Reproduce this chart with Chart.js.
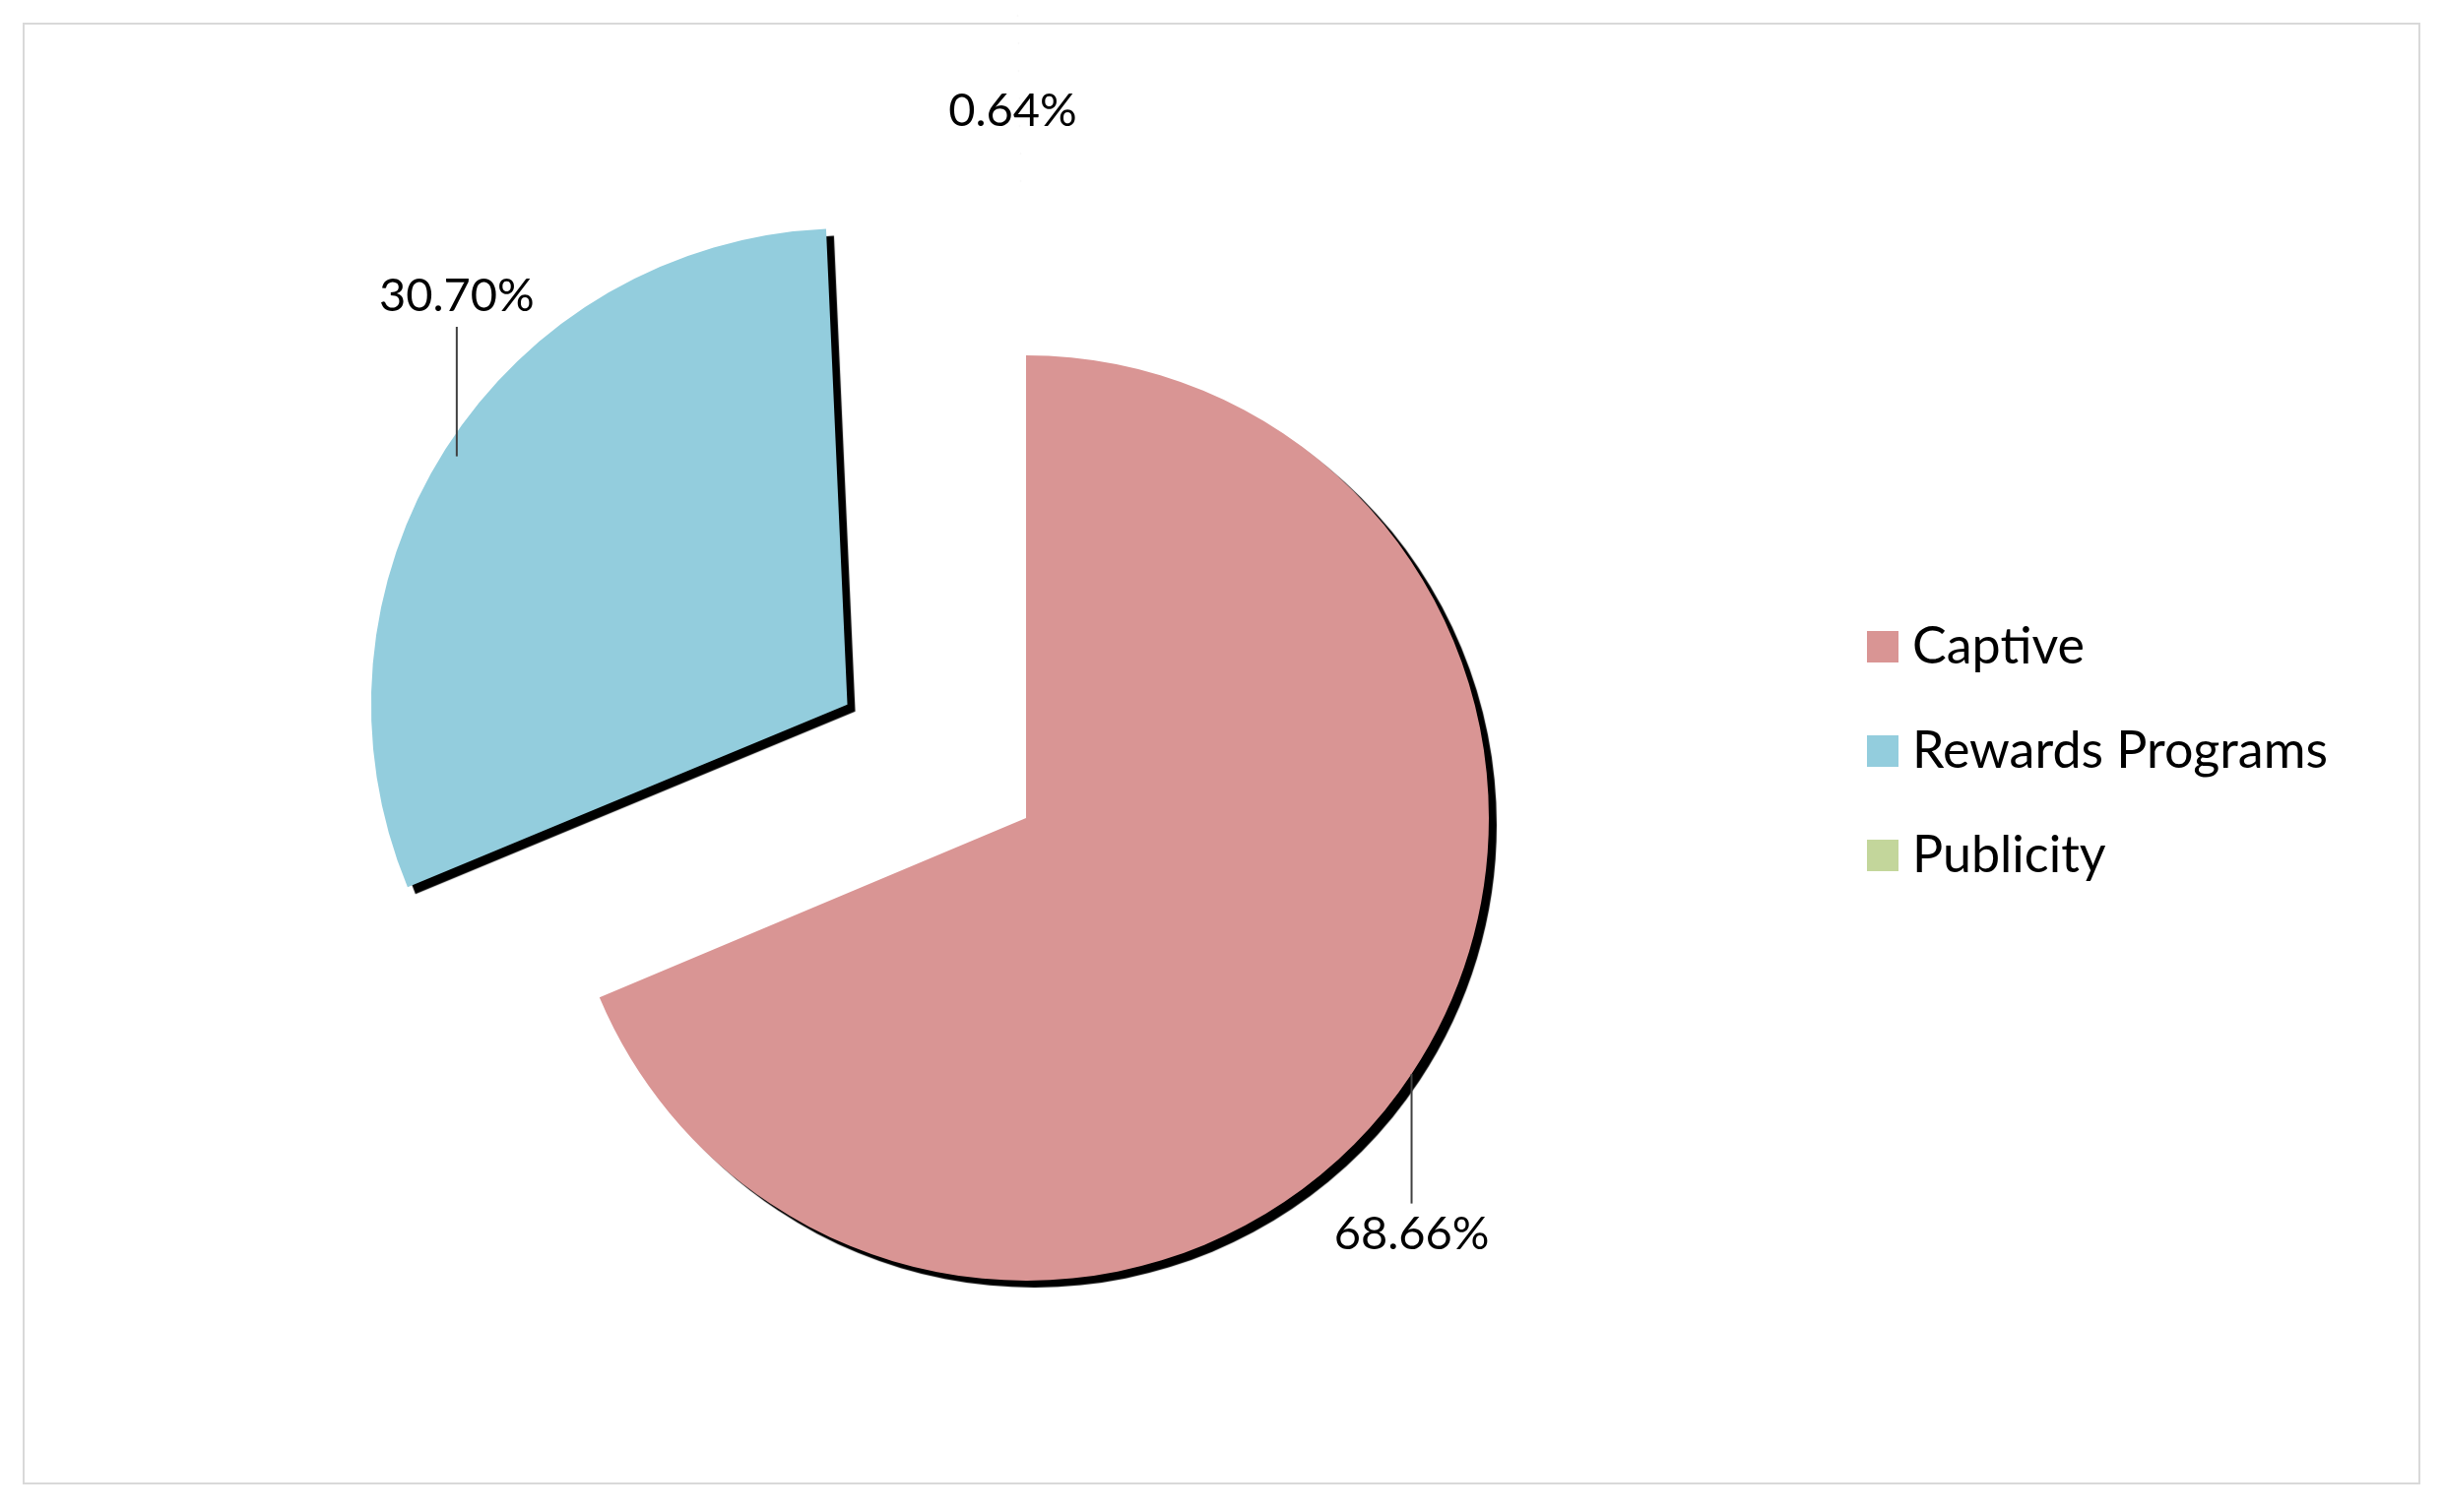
<!DOCTYPE html>
<html>
<head>
<meta charset="utf-8">
<script src="https://cdn.jsdelivr.net/npm/chart.js@4/dist/chart.umd.min.js"></script>
<style>
  html, body { margin: 0; padding: 0; background: #fff; }
  #wrap { width: 2482px; height: 1536px; }
</style>
</head>
<body>
<div id="wrap"><canvas id="pie"></canvas></div>
<script>
var categories = ["Captive", "Rewards Programs", "Publicity"];
var shares = [68.66, 30.70, 0.64];
var shareLabels = ["68.66%", "30.70%", "0.64%"];
var sliceColors = ["#D99594", "#93CDDD", "#C3D69B"];
var sliceOffsets = [0, 215, 205];

var FONT = "Lato, 'Open Sans', sans-serif";

var frame = {
    id: "frame",
    beforeDraw: function (chart) {
        var ctx = chart.ctx;
        ctx.save();
        ctx.fillStyle = "#fff";
        ctx.fillRect(0, 0, chart.width, chart.height);
        ctx.strokeStyle = "#d9d9d9";
        ctx.lineWidth = 2;
        ctx.strokeRect(24, 24, 2433, 1483);
        ctx.restore();
    }
};

var shadow = {
    id: "shadow",
    beforeDatasetsDraw: function (chart) {
        var ctx = chart.ctx;
        ctx.save();
        ctx.shadowColor = "#000";
        ctx.shadowOffsetX = 8;
        ctx.shadowOffsetY = 7;
        ctx.shadowBlur = 1;
    },
    afterDatasetsDraw: function (chart) {
        chart.ctx.restore();
    }
};

var labels = {
    id: "labels",
    afterDraw: function (chart) {
        var ctx = chart.ctx;
        var arcs = chart.getDatasetMeta(0).data;
        ctx.save();
        ctx.font = "47px " + FONT;
        ctx.fillStyle = "#000";
        ctx.strokeStyle = "#404040";
        ctx.lineWidth = 2;
        ctx.textAlign = "center";
        arcs.forEach(function (arc, i) {
            var p = arc.getProps(["x", "y", "startAngle", "endAngle", "outerRadius"], true);
            var mid = (p.startAngle + p.endAngle) / 2;
            var off = sliceOffsets[i];
            var cx = p.x + Math.cos(mid) * off;
            var cy = p.y + Math.sin(mid) * off;
            var ex = cx + Math.cos(mid) * p.outerRadius;
            var ey = cy + Math.sin(mid) * p.outerRadius;
            var dir = Math.sin(mid) >= 0 ? 1 : -1;
            if (Math.abs(Math.sin(mid)) > 0.95) {
                ctx.textBaseline = dir > 0 ? "top" : "bottom";
                ctx.fillText(shareLabels[i], ex, ey + dir * 20);
                return;
            }
            var len = 0.28 * p.outerRadius;
            ctx.beginPath();
            ctx.moveTo(ex, ey);
            ctx.lineTo(ex, ey + dir * len);
            ctx.stroke();
            ctx.textBaseline = dir > 0 ? "top" : "bottom";
            ctx.fillText(shareLabels[i], ex, ey + dir * (len + 8));
        });
        ctx.restore();
    }
};

var legendBox = {
    id: "legendBox",
    afterDraw: function (chart) {
        var ctx = chart.ctx;
        ctx.save();
        ctx.font = "52px " + FONT;
        ctx.textBaseline = "middle";
        ctx.textAlign = "left";
        categories.forEach(function (name, i) {
            var y = 657 + i * 106;
            ctx.fillStyle = sliceColors[i];
            ctx.fillRect(1896, y - 16, 32, 32);
            ctx.fillStyle = "#000";
            ctx.fillText(name, 1942, y);
        });
        ctx.restore();
    }
};

new Chart(document.getElementById("pie").getContext("2d"), {
    type: "pie",
    data: {
        labels: categories,
        datasets: [{
            data: shares,
            backgroundColor: sliceColors,
            borderWidth: 0,
            // Chart.js moves an arc by a quarter of its offset option
            offset: sliceOffsets.map(function (o) { return o * 4; }),
            radius: 470
        }]
    },
    options: {
        responsive: true,
        maintainAspectRatio: false,
        animation: false,
        layout: { padding: { left: 0, right: 398, top: 126, bottom: 0 } },
        plugins: {
            legend: { display: false },
            tooltip: { enabled: false }
        }
    },
    plugins: [frame, shadow, labels, legendBox]
});
</script>
</body>
</html>
